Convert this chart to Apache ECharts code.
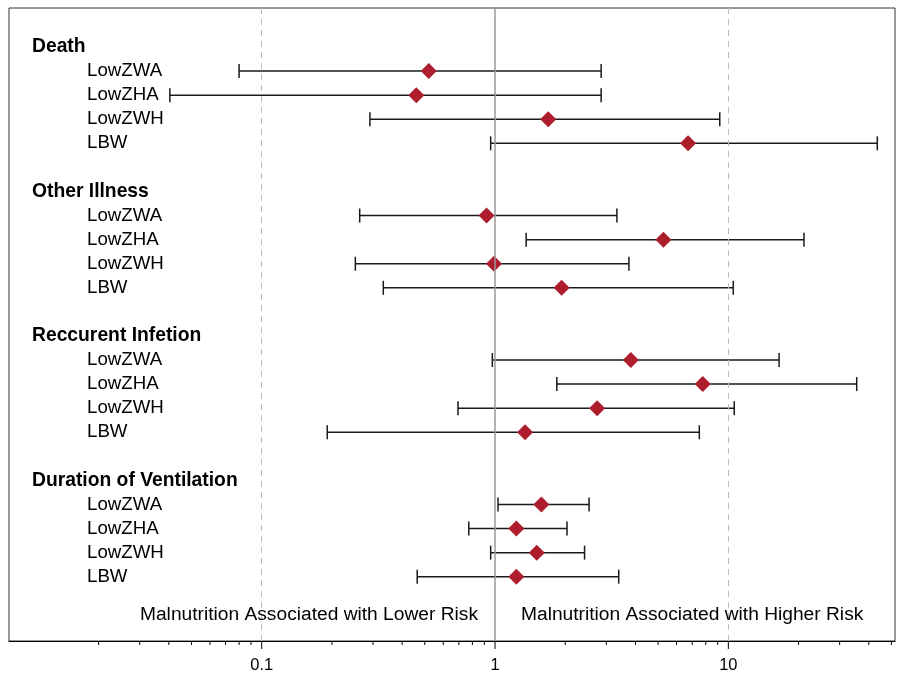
<!DOCTYPE html>
<html>
<head>
<meta charset="utf-8">
<script src="https://cdn.jsdelivr.net/npm/echarts@6/dist/echarts.min.js"></script>
<style>html,body{margin:0;padding:0;background:#fff}#c{width:897px;height:675px}</style>
</head>
<body>
<div id="c"></div>
<script>
// ---- data ----
const groups = ['Death', 'Other Illness', 'Reccurent Infetion', 'Duration of Ventilation'];
const items = ['LowZWA', 'LowZHA', 'LowZWH', 'LBW'];

const deathEst  = [0.52, 0.46, 1.69, 6.72];
const deathLow  = [0.080, 0.0404, 0.291, 0.958];
const deathHigh = [2.85, 2.85, 9.19, 43.5];

const otherEst  = [0.92, 5.27, 0.99, 1.93];
const otherLow  = [0.263, 1.36, 0.252, 0.332];
const otherHigh = [3.33, 21.1, 3.75, 10.5];

const recEst  = [3.82, 7.77, 2.74, 1.345];
const recLow  = [0.974, 1.84, 0.694, 0.191];
const recHigh = [16.5, 35.5, 10.6, 7.51];

const durEst  = [1.58, 1.234, 1.51, 1.234];
const durLow  = [1.03, 0.772, 0.958, 0.464];
const durHigh = [2.53, 2.035, 2.42, 3.39];

const majorTicks = [0.1, 1, 10];
const minorTicks = [0.02,0.03,0.04,0.05,0.06,0.07,0.08,0.09,
                    0.2,0.3,0.4,0.5,0.6,0.7,0.8,0.9,
                    2,3,4,5,6,7,8,9, 20,30,40,50];
const noteLower = 'Malnutrition Associated with Lower Risk';
const noteHigher = 'Malnutrition Associated with Higher Risk';

// ---- build ----
const ests = [deathEst, otherEst, recEst, durEst];
const lows = [deathLow, otherLow, recLow, durLow];
const highs = [deathHigh, otherHigh, recHigh, durHigh];

const X_MIN = 0.00826, X_MAX = 51.8;
const Y_MIN = -1.62, Y_MAX = 24.67;
const FONT = '"Liberation Sans", Arial, sans-serif';

const pointData = [], barData = [], labelData = [], labelText = [], labelHeader = [];
groups.forEach((g, gi) => {
  const base = gi * 6;
  labelData.push([X_MIN, base]); labelText.push(g); labelHeader.push(true);
  items.forEach((it, ii) => {
    const row = base + 1 + ii;
    labelData.push([X_MIN, row]); labelText.push(it); labelHeader.push(false);
    pointData.push([ests[gi][ii], row]);
    barData.push([lows[gi][ii], highs[gi][ii], row]);
  });
});
const tickData = majorTicks.map(v => [v, 1]).concat(minorTicks.map(v => [v, 0]));

const chart = echarts.init(document.getElementById('c'));
chart.setOption({
  animation: false,
  backgroundColor: '#fff',
  grid: { left: 9, top: 8, right: 2, bottom: 34, show: true, borderColor: '#333', borderWidth: 1, backgroundColor: 'transparent' },
  xAxis: {
    type: 'log', logBase: 10, min: X_MIN, max: X_MAX,
    axisLine: { show: true, onZero: false, lineStyle: { color: '#000', width: 1 } },
    axisTick: { show: false },
    splitLine: { show: false },
    minorTick: { show: false },
    axisLabel: {
      margin: 16, color: '#000', fontSize: 16.5, fontFamily: FONT,
      showMinLabel: false, showMaxLabel: false,
      formatter: v => {
        for (const m of majorTicks) if (Math.abs(v / m - 1) < 1e-6) return String(m);
        return '';
      }
    }
  },
  yAxis: { type: 'value', inverse: true, min: Y_MIN, max: Y_MAX, show: false, splitLine: { show: false } },
  series: [
    {
      type: 'scatter', data: [], z: 1, silent: true,
      markLine: {
        silent: true, symbol: 'none', label: { show: false },
        data: [
          { xAxis: 0.1, lineStyle: { color: '#bdbdbd', type: [6, 5], width: 1 } },
          { xAxis: 10, lineStyle: { color: '#bdbdbd', type: [6, 5], width: 1 } },
          { xAxis: 1, lineStyle: { color: '#999', type: 'solid', width: 1.5 } }
        ]
      }
    },
    {
      type: 'custom', z: 3, silent: true,
      encode: { x: [0, 1], y: 2 },
      data: barData,
      renderItem: (params, api) => {
        const a = api.coord([api.value(0), api.value(2)]);
        const b = api.coord([api.value(1), api.value(2)]);
        const st = { stroke: '#1a1a1a', lineWidth: 1.5 };
        return { type: 'group', children: [
          { type: 'line', shape: { x1: a[0], y1: a[1], x2: b[0], y2: b[1] }, style: st },
          { type: 'line', shape: { x1: a[0], y1: a[1] - 7, x2: a[0], y2: a[1] + 7 }, style: st },
          { type: 'line', shape: { x1: b[0], y1: b[1] - 7, x2: b[0], y2: b[1] + 7 }, style: st }
        ]};
      }
    },
    {
      type: 'scatter', z: 4, silent: true,
      symbol: 'diamond', symbolSize: 16,
      itemStyle: { color: '#AD1D2E', opacity: 1 },
      data: pointData
    },
    {
      type: 'custom', z: 5, silent: true,
      encode: { x: 0, y: 1 },
      data: labelData,
      renderItem: (params, api) => {
        const p = api.coord([api.value(0), api.value(1)]);
        const h = labelHeader[params.dataIndex];
        return { type: 'text', x: p[0] + (h ? 23 : 78), y: p[1], style: {
          text: labelText[params.dataIndex], fill: '#000',
          font: (h ? 'bold 19.3px ' : '18.7px ') + FONT,
          textAlign: 'left', textVerticalAlign: 'middle'
        }};
      }
    },
    {
      type: 'custom', z: 5, silent: true,
      encode: { x: 0, y: 1 },
      data: [[1, 23.59]],
      renderItem: (params, api) => {
        const p = api.coord([api.value(0), api.value(1)]);
        return { type: 'group', children: [
          { type: 'text', x: p[0] - 17, y: p[1], style: { text: noteLower, fill: '#000', font: '19.2px ' + FONT, textAlign: 'right', textVerticalAlign: 'middle' } },
          { type: 'text', x: p[0] + 26, y: p[1], style: { text: noteHigher, fill: '#000', font: '19.2px ' + FONT, textAlign: 'left', textVerticalAlign: 'middle' } }
        ]};
      }
    },
    {
      type: 'custom', z: 6, silent: true, clip: false,
      encode: { x: 0 },
      data: tickData,
      renderItem: (params, api) => {
        const p = api.coord([api.value(0), Y_MAX]);
        const len = api.value(1) ? 8 : 4;
        return { type: 'line', shape: { x1: p[0], y1: p[1], x2: p[0], y2: p[1] + len }, style: { stroke: '#000', lineWidth: 1 } };
      }
    }
  ]
});
</script>
</body>
</html>
